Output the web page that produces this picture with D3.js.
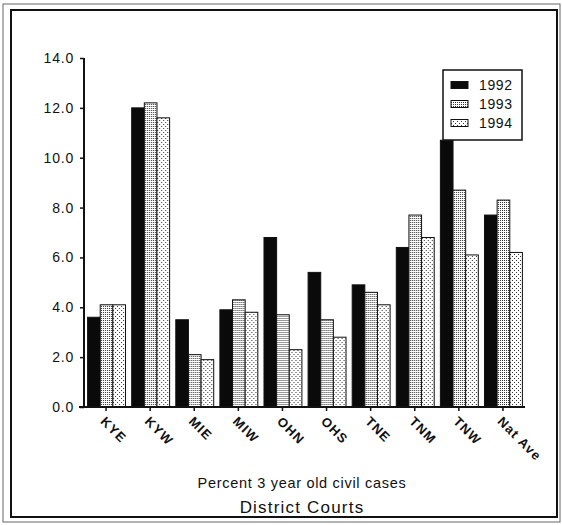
<!DOCTYPE html>
<html>
<head>
<meta charset="utf-8">
<script src="https://cdn.jsdelivr.net/npm/d3@7"></script>
<style>
  html, body { margin: 0; padding: 0; background: #fff; }
  svg { display: block; }
  text { font-family: Arial, "Liberation Sans", sans-serif; fill: #111; }
</style>
</head>
<body>
<svg id="chart" width="562" height="525"></svg>
<script>
// District courts and the share of civil cases over three years old
const courts = ["KYE", "KYW", "MIE", "MIW", "OHN", "OHS", "TNE", "TNM", "TNW", "Nat Ave"];
const years = ["1992", "1993", "1994"];
const values1992 = [3.6, 12.0, 3.5, 3.9, 6.8, 5.4, 4.9, 6.4, 10.7, 7.7];
const values1993 = [4.1, 12.2, 2.1, 4.3, 3.7, 3.5, 4.6, 7.7, 8.7, 8.3];
const values1994 = [4.1, 11.6, 1.9, 3.8, 2.3, 2.8, 4.1, 6.8, 6.1, 6.2];
const yTicks = [0, 2, 4, 6, 8, 10, 12, 14];

const seriesByYear = { "1992": values1992, "1993": values1993, "1994": values1994 };
const rows = courts.map((c, i) => ({ court: c, vals: years.map(y => ({ year: y, v: seriesByYear[y][i] })) }));

const svg = d3.select("#chart");

// Dot-screen fills for the lighter series
const defs = svg.append("defs");
const p93 = defs.append("pattern").attr("id", "dots93").attr("patternUnits", "userSpaceOnUse")
  .attr("width", 2).attr("height", 2);
p93.append("rect").attr("width", 2).attr("height", 2).attr("fill", "#fff");
p93.append("rect").attr("x", 0).attr("y", 0).attr("width", 1).attr("height", 1).attr("fill", "#333");

const p94 = defs.append("pattern").attr("id", "dots94").attr("patternUnits", "userSpaceOnUse")
  .attr("width", 4).attr("height", 4);
p94.append("rect").attr("width", 4).attr("height", 4).attr("fill", "#fff");
p94.append("rect").attr("x", 0).attr("y", 0).attr("width", 1).attr("height", 1).attr("fill", "#333");
p94.append("rect").attr("x", 2).attr("y", 2).attr("width", 1).attr("height", 1).attr("fill", "#333");

const fills = { "1992": "#0a0a0a", "1993": "url(#dots93)", "1994": "url(#dots94)" };

// Frame
svg.append("rect").attr("x", 3).attr("y", 4).attr("width", 557).attr("height", 518)
  .attr("fill", "none").attr("stroke", "#666").attr("stroke-width", 1);
svg.append("rect").attr("x", 11).attr("y", 10).attr("width", 546).attr("height", 507)
  .attr("fill", "none").attr("stroke", "#111").attr("stroke-width", 2);

// Scales
const x = d3.scaleBand().domain(courts).range([84, 525]).paddingInner(0.14).paddingOuter(0.07);
const xs = d3.scaleBand().domain(years).range([0, x.bandwidth()]);
const y = d3.scaleLinear().domain([0, 14]).range([407, 58]);

// Bars
const groups = svg.append("g").selectAll("g").data(rows).join("g")
  .attr("transform", d => `translate(${x(d.court)},0)`);
groups.selectAll("rect").data(d => d.vals).join("rect")
  .attr("x", d => xs(d.year) + 0.5)
  .attr("y", d => y(d.v))
  .attr("width", xs.bandwidth())
  .attr("height", d => y(0) - y(d.v))
  .attr("fill", d => fills[d.year])
  .attr("stroke", "#111")
  .attr("stroke-width", 1);

// Y axis
const yAxis = svg.append("g").attr("transform", "translate(84,0)")
  .call(d3.axisLeft(y).tickValues(yTicks).tickFormat(d3.format(".1f")).tickSize(4).tickPadding(6));
yAxis.select(".domain").attr("stroke", "#111").attr("stroke-width", 2).attr("d", "M0,58V407");
yAxis.selectAll(".tick line").attr("stroke", "#111").attr("stroke-width", 1.5);
yAxis.selectAll(".tick text").style("font-size", "14px").style("letter-spacing", "0.8px")
  .style("font-family", "Arial, 'Liberation Sans', sans-serif").attr("fill", "#111");

// X axis
const xAxis = svg.append("g").attr("transform", "translate(0,407)")
  .call(d3.axisBottom(x).tickSize(4).tickFormat(""));
xAxis.select(".domain").attr("stroke", "#111").attr("stroke-width", 2).attr("d", "M79,0H525");
xAxis.selectAll(".tick line").attr("stroke", "#111").attr("stroke-width", 1.5);

// Slanted court labels
svg.append("g").selectAll("text").data(courts).join("text")
  .attr("transform", d => `translate(${x(d) + x.bandwidth() / 2 - 3},419) rotate(45)`)
  .attr("dy", "0.35em")
  .style("font-size", "13px").style("font-weight", "bold").style("letter-spacing", "1.2px")
  .text(d => d);

// Titles
svg.append("text").attr("x", 302).attr("y", 488).attr("text-anchor", "middle")
  .style("font-size", "14.5px").style("letter-spacing", "0.7px")
  .text("Percent 3 year old civil cases");
svg.append("text").attr("x", 302).attr("y", 513).attr("text-anchor", "middle")
  .style("font-size", "17px").style("letter-spacing", "1.2px")
  .text("District Courts");

// Legend
const lg = svg.append("g");
lg.append("rect").attr("x", 443).attr("y", 70).attr("width", 79).attr("height", 70)
  .attr("fill", "#fff").attr("stroke", "#111").attr("stroke-width", 1.5);
const items = lg.selectAll("g").data(years).join("g")
  .attr("transform", (d, i) => `translate(451,${85 + i * 19})`);
items.append("rect").attr("x", 0).attr("y", -3.5).attr("width", 17).attr("height", 7)
  .attr("fill", d => fills[d]).attr("stroke", "#111").attr("stroke-width", 1);
items.append("text").attr("x", 28).attr("dy", "0.36em")
  .style("font-size", "14px").style("letter-spacing", "0.6px").text(d => d);
</script>
</body>
</html>
